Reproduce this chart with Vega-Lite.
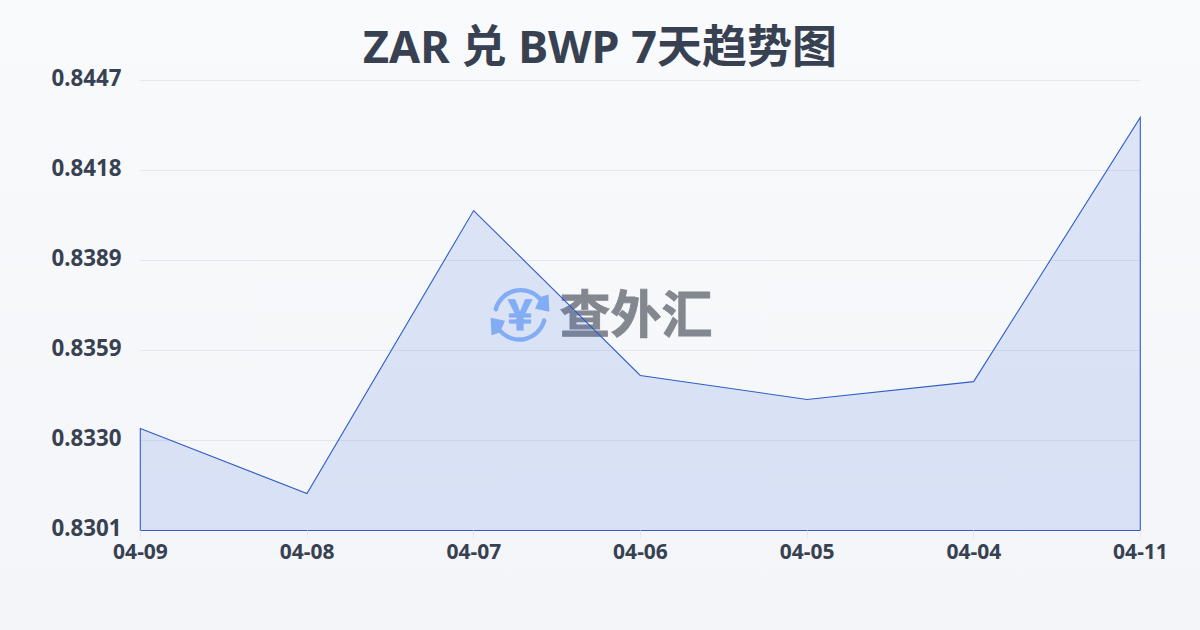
{
"$schema":"https://vega.github.io/schema/vega-lite/v6.json",
"width":1000,"height":450,
"autosize":"none",
"padding":{"left":140,"top":80,"right":60,"bottom":100},
"background":"#f6f7fa",
"view":{"stroke":null},
"title":{"text":"ZAR 兑 BWP 7天趋势图","font":"Noto Sans, Noto Sans CJK SC","fontSize":45,"fontWeight":"bold","color":"#374151","anchor":"middle","dx":-40,"offset":-72},
"resolve":{"scale":{"x":"independent","y":"independent"},"axis":{"x":"independent","y":"independent"}},
"layer":[
{"data":{"values":[{"frac":0},{"frac":1}]},
 "mark":{"type":"area","clip":false,"fill":{"gradient":"linear","x1":0,"y1":0,"x2":0,"y2":1,"stops":[{"offset":0,"color":"#f9fafc"},{"offset":1,"color":"#f3f5f8"}]}},
 "encoding":{
  "x":{"field":"frac","type":"quantitative","axis":null,"scale":{"domain":[0.116667,0.95],"nice":false,"zero":false}},
  "y":{"datum":0.8473,"type":"quantitative","axis":null,"scale":{"domain":[0.8301,0.8447],"nice":false,"zero":false}},
  "y2":{"datum":0.82686}}},
{"data":{"values":[
{"date":"04-09","rate":0.83341},
{"date":"04-08","rate":0.83130},
{"date":"04-07","rate":0.84048},
{"date":"04-06","rate":0.83513},
{"date":"04-05","rate":0.83435},
{"date":"04-04","rate":0.83493},
{"date":"04-11","rate":0.84350}
]},
"encoding":{
"x":{"field":"date","type":"ordinal","scale":{"type":"point","padding":0,"domain":["04-09","04-08","04-07","04-06","04-05","04-04","04-11"]},"title":null,
"axis":{"labelAngle":0,"labelFont":"Noto Sans","labelFontSize":21,"labelFontWeight":"bold","labelColor":"#374151","labelPadding":3,"domain":false,"ticks":true,"tickColor":"#e5e7eb","tickSize":8,"grid":false,"zindex":1}},
"y":{"field":"rate","type":"quantitative","scale":{"domain":[0.8301,0.8447],"nice":false,"zero":false},"title":null,
"axis":{"values":[0.8301,0.83302,0.83594,0.83886,0.84178,0.8447],"format":".4f","labelFont":"Noto Sans","labelFontSize":22.3,"labelFontWeight":"bold","labelColor":"#374151","labelPadding":19,"labelOffset":-2,"domain":false,"ticks":false,"grid":false,"zindex":1}}
},
"layer":[
{"data":{"values":[{"tick":0.83302},{"tick":0.83594},{"tick":0.83886},{"tick":0.84178},{"tick":0.8447}]},
 "mark":{"type":"rule","color":"#e5e7eb","strokeWidth":1,"yOffset":0.5},
 "encoding":{"x":{"datum":"04-09"},"x2":{"datum":"04-11"},"y":{"field":"tick","type":"quantitative"}}},
{"data":{"values":[{"date":"04-06","rate":0.83708}]},
 "mark":{"type":"point","filled":true,"fill":"#8fb8f8","stroke":null,"opacity":1,"size":3600,"xOffset":-120,
 "shape":"M-0.88 -0.2 A0.93 0.93 0 0 1 0.7 -0.6 L0.95 -0.68 L0.98 -0.1 L0.5 -0.2 L0.62 -0.47 A0.78 0.78 0 0 0 -0.74 -0.14 A0.08 0.08 0 0 1 -0.88 -0.2 Z M0.88 0.2 A0.93 0.93 0 0 1 -0.7 0.6 L-0.95 0.68 L-0.98 0.1 L-0.5 0.2 L-0.62 0.47 A0.78 0.78 0 0 0 0.74 0.14 A0.08 0.08 0 0 1 0.88 0.2 Z"}},
{"data":{"values":[{"date":"04-06","rate":0.83708}]},
 "mark":{"type":"text","text":"¥","font":"Noto Sans CJK SC","fontSize":42,"fontWeight":"bold","color":"#8fb8f8","stroke":"#8fb8f8","strokeWidth":1,"dx":-120,"dy":2,"baseline":"middle","align":"center"}},
{"data":{"values":[{"date":"04-06","rate":0.83708}]},
 "mark":{"type":"text","text":"查外汇","font":"Noto Sans CJK SC","fontSize":51,"fontWeight":"bold","color":"#83878f","stroke":"#83878f","strokeWidth":0.8,"dx":-4,"dy":3,"baseline":"middle","align":"center"}},
{"mark":{"type":"area","fill":"#3b6edc","fillOpacity":0.15,"stroke":"#2f5fc8","strokeWidth":1.1,"interpolate":"linear","yOffset":0.5,"y2Offset":0.5,"xOffset":0.3,"x2Offset":0.3},
 "encoding":{"y2":{"datum":0.8301}}}
]}
]
}
